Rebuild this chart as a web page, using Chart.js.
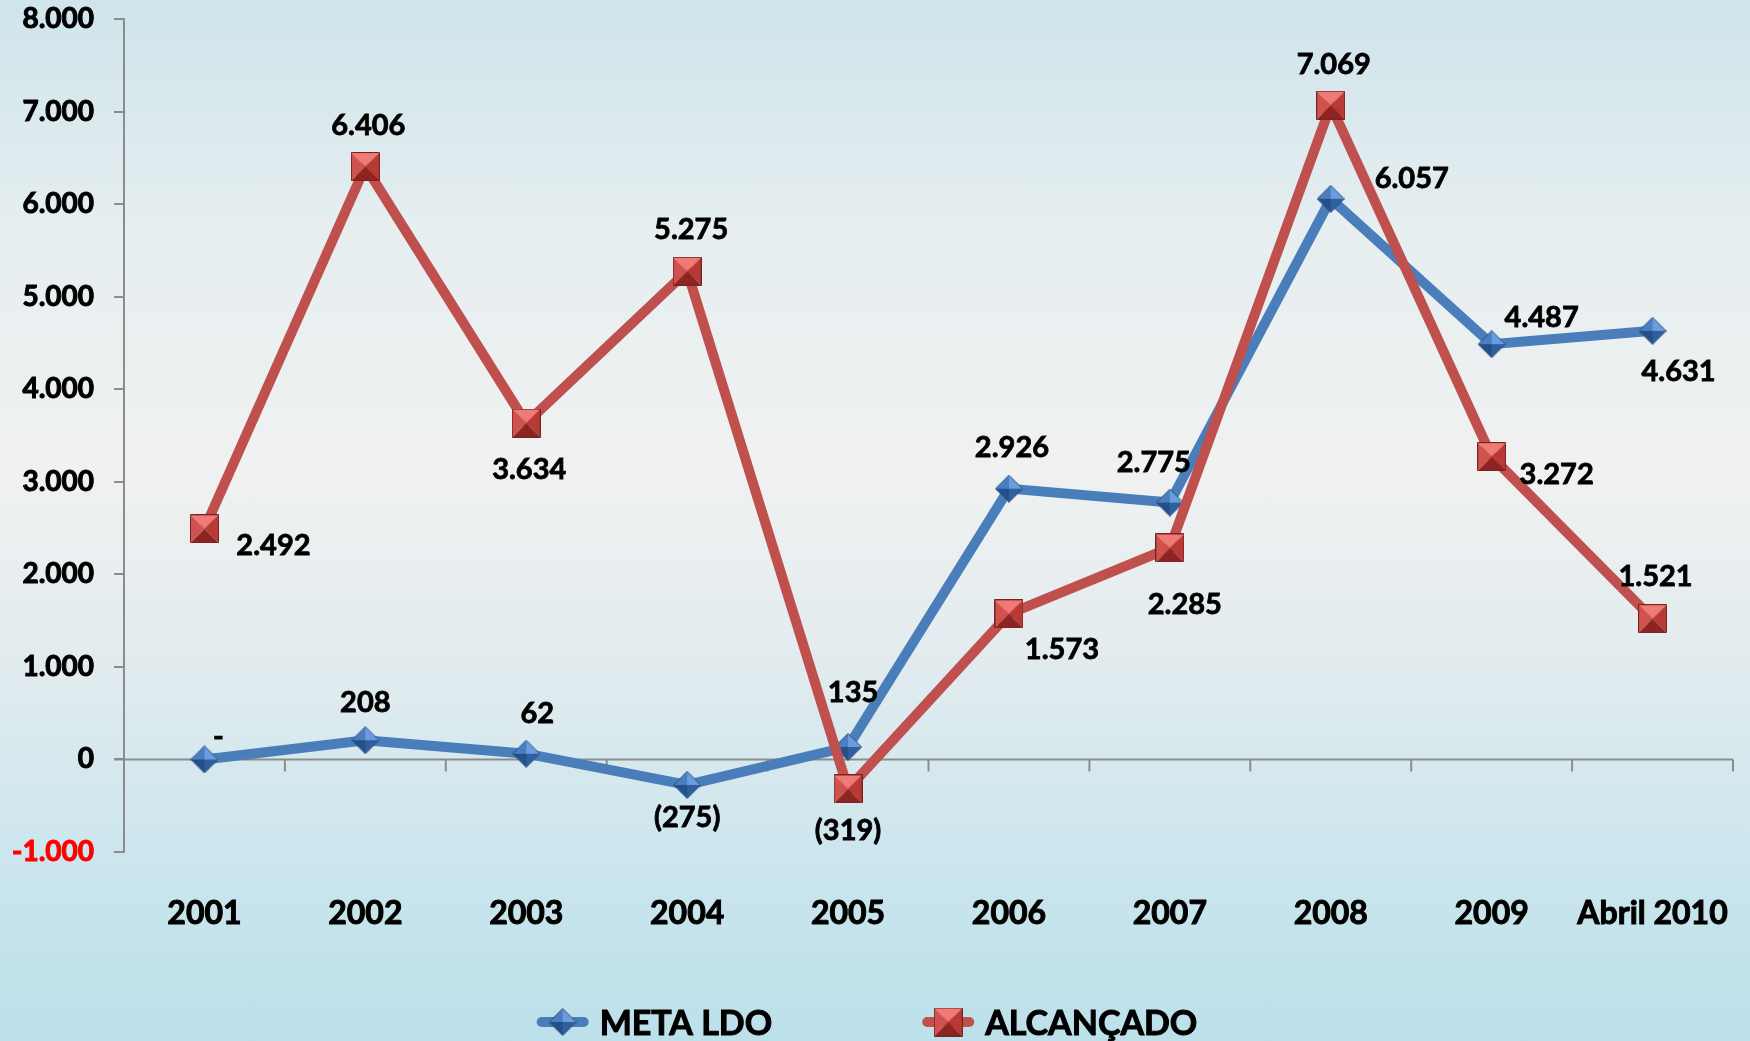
<!DOCTYPE html>
<html>
<head>
<meta charset="utf-8">
<script src="https://cdn.jsdelivr.net/npm/chart.js@4"></script>
<style>
  html, body { margin: 0; padding: 0; }
  #wrap {
    width: 1750px; height: 1041px;
    background: linear-gradient(to bottom, #cfe4eb 0%, #e6eef0 22%, #f0f1f1 45%, #e3ecef 62%, #c9e5ed 85%, #bce0ea 100%);
  }
  canvas { display: block; }
</style>
</head>
<body>
<div id="wrap"><canvas id="chart" width="1750" height="1041"></canvas></div>
<script>
const categories = ['2001', '2002', '2003', '2004', '2005', '2006', '2007', '2008', '2009', 'Abril 2010'];
const metaLdo = [0, 208, 62, -275, 135, 2926, 2775, 6057, 4487, 4631];
const alcancado = [2492, 6406, 3634, 5275, -319, 1573, 2285, 7069, 3272, 1521];
const seriesNames = ['META LDO', 'ALCANÇADO'];

// where each value label sits relative to its point (px)
const metaLabelOffsets = [[14, -23], [0, -38], [11, -40], [0, 33], [5, -54], [3, -41], [-16, -40], [81, -20], [50, -27], [26, 41]];
const alcLabelOffsets = [[69, 17], [3, -41], [3, 47], [4, -42], [0, 42], [53, 36], [15, 57], [3, -41], [65, 18], [3, -42]];

const FONT = 'Lato, "Open Sans", sans-serif';
const BLUE = '#4a7ebb';
const RED = '#c0504d';
const AXIS = '#8c8c8c';

function thousands(n) {
  return String(Math.abs(Math.round(n))).replace(/\B(?=(\d{3})+(?!\d))/g, '.');
}
function labelFmt(v) {
  if (v === 0) return '-';
  return v < 0 ? '(' + thousands(v) + ')' : thousands(v);
}
function tickFmt(v) {
  return (v < 0 ? '-' : '') + thousands(v);
}

// bevelled marker images, drawn once
function facetMarker(size, faces, outline) {
  const c = document.createElement('canvas');
  c.width = size; c.height = size;
  const g = c.getContext('2d');
  const m = size / 2;
  const pts = faces.pts;
  for (let i = 0; i < 4; i++) {
    const a = pts[i], b = pts[(i + 1) % 4];
    g.beginPath();
    g.moveTo(m, m); g.lineTo(a[0], a[1]); g.lineTo(b[0], b[1]); g.closePath();
    g.fillStyle = faces.colors[i];
    g.fill();
  }
  g.beginPath();
  g.moveTo(pts[0][0], pts[0][1]);
  for (let i = 1; i < 4; i++) g.lineTo(pts[i][0], pts[i][1]);
  g.closePath();
  g.strokeStyle = outline; g.lineWidth = 1; g.stroke();
  return c;
}
const diamond = facetMarker(28, {
  pts: [[14, 0.5], [27.5, 14], [14, 27.5], [0.5, 14]],
  colors: ['#6b9ddc', '#2f5f9c', '#24508a', '#4a7ec2']
}, '#2a4f80');
const square = facetMarker(29, {
  pts: [[0.5, 0.5], [28.5, 0.5], [28.5, 28.5], [0.5, 28.5]],
  colors: ['#f07a76', '#b83a36', '#8c2422', '#d0524e']
}, '#7a2220');

const valueLabels = {
  id: 'valueLabels',
  afterDatasetsDraw(chart) {
    const ctx = chart.ctx;
    const offsets = [metaLabelOffsets, alcLabelOffsets];
    ctx.save();
    ctx.font = 'bold 29px ' + FONT;
    ctx.fillStyle = '#000';
    ctx.strokeStyle = '#000';
    ctx.lineWidth = 0.8;
    ctx.textAlign = 'center';
    ctx.textBaseline = 'middle';
    chart.data.datasets.forEach((ds, di) => {
      chart.getDatasetMeta(di).data.forEach((pt, i) => {
        const o = offsets[di][i];
        const t = labelFmt(ds.data[i]);
        ctx.fillText(t, pt.x + o[0], pt.y + o[1]);
        ctx.strokeText(t, pt.x + o[0], pt.y + o[1]);
      });
    });
    ctx.restore();
  }
};

// category axis crossing at zero, with tick marks between categories
const zeroAxis = {
  id: 'zeroAxis',
  beforeDatasetsDraw(chart) {
    const { ctx, chartArea, scales } = chart;
    const y0 = scales.y.getPixelForValue(0);
    ctx.save();
    ctx.strokeStyle = AXIS;
    ctx.lineWidth = 2;
    ctx.beginPath();
    ctx.moveTo(chartArea.left - 10, y0);
    ctx.lineTo(chartArea.right, y0);
    for (let i = 0; i < categories.length; i++) {
      const x = scales.x.getPixelForValue(i + 0.5);
      ctx.moveTo(x, y0);
      ctx.lineTo(x, y0 + 12);
    }
    ctx.stroke();
    ctx.restore();
  }
};

const bottomLegend = {
  id: 'bottomLegend',
  afterDraw(chart) {
    const ctx = chart.ctx;
    const y = chart.height - 19;
    const items = [
      { text: seriesNames[0], color: BLUE, img: diamond },
      { text: seriesNames[1], color: RED, img: square }
    ];
    ctx.save();
    ctx.font = 'bold 34px ' + FONT;
    ctx.textBaseline = 'middle';
    const sym = 52, gapText = 11, gapItem = 150;
    const widths = items.map(it => sym + gapText + ctx.measureText(it.text).width);
    const total = widths[0] + widths[1] + gapItem;
    let x = chart.width / 2 - total / 2 - 8;
    items.forEach((it, i) => {
      ctx.strokeStyle = it.color;
      ctx.lineWidth = 10;
      ctx.lineCap = 'round';
      ctx.beginPath();
      ctx.moveTo(x + 5, y);
      ctx.lineTo(x + sym - 5, y);
      ctx.stroke();
      ctx.drawImage(it.img, x + sym / 2 - it.img.width / 2, y - it.img.height / 2);
      ctx.fillStyle = '#000';
      ctx.strokeStyle = '#000';
      ctx.lineWidth = 1;
      ctx.fillText(it.text, x + sym + gapText, y + 2);
      ctx.strokeText(it.text, x + sym + gapText, y + 2);
      x += widths[i] + gapItem;
    });
    ctx.restore();
  }
};

const tickInk = c => (c.tick && c.tick.value < 0 ? '#ff0000' : '#000');

new Chart(document.getElementById('chart'), {
  type: 'line',
  data: {
    labels: categories,
    datasets: [
      {
        label: seriesNames[0],
        data: metaLdo,
        borderColor: BLUE,
        borderWidth: 10,
        pointStyle: diamond,
        pointRadius: 14,
        order: 1,
        tension: 0
      },
      {
        label: seriesNames[1],
        data: alcancado,
        borderColor: RED,
        borderWidth: 10,
        pointStyle: square,
        pointRadius: 14,
        order: 0,
        tension: 0
      }
    ]
  },
  options: {
    responsive: false,
    animation: false,
    layout: { autoPadding: false, padding: { top: 19, right: 17, bottom: 110, left: 0 } },
    plugins: {
      legend: { display: false },
      tooltip: { enabled: false }
    },
    scales: {
      x: {
        offset: true,
        grid: { display: false, drawTicks: false },
        border: { display: false },
        ticks: {
          color: '#000',
          textStrokeColor: '#000',
          textStrokeWidth: 1,
          font: { family: FONT, size: 32, weight: 'bold' },
          padding: 42,
          maxRotation: 0,
          autoSkip: false
        },
        afterFit(s) { s.height = 79; s.paddingLeft = 0; s.paddingRight = 0; }
      },
      y: {
        min: -1000,
        max: 8000,
        grid: { drawOnChartArea: false, tickLength: 10, color: AXIS, lineWidth: 2 },
        border: { color: AXIS, width: 2 },
        ticks: {
          stepSize: 1000,
          padding: 20,
          color: tickInk,
          textStrokeColor: tickInk,
          textStrokeWidth: 1,
          font: { family: FONT, size: 28, weight: 'bold' },
          callback: v => tickFmt(v)
        },
        afterFit(s) { s.width = 124; s.paddingTop = 0; s.paddingBottom = 0; }
      }
    }
  },
  plugins: [zeroAxis, valueLabels, bottomLegend]
});
</script>
</body>
</html>
